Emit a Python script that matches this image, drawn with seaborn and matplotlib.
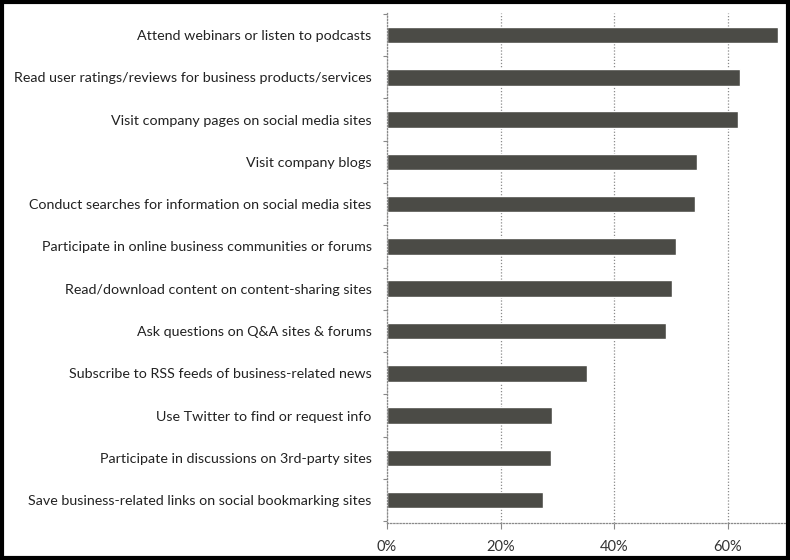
import matplotlib
matplotlib.use("Agg")
import matplotlib.pyplot as plt
from matplotlib.patches import Rectangle
import seaborn as sns
import pandas as pd
import numpy as np

activities = [
    "Attend webinars or listen to podcasts",
    "Read user ratings/reviews for business products/services",
    "Visit company pages on social media sites",
    "Visit company blogs",
    "Conduct searches for information on social media sites",
    "Participate in online business communities or forums",
    "Read/download content on content-sharing sites",
    "Ask questions on Q&A sites & forums",
    "Subscribe to RSS feeds of business-related news",
    "Use Twitter to find or request info",
    "Participate in discussions on 3rd-party sites",
    "Save business-related links on social bookmarking sites",
]
shares = [68.9, 62.2, 61.9, 54.6, 54.3, 50.9, 50.2, 49.2, 35.2, 29.1, 28.9, 27.5]
tick_values = [0, 20, 40, 60]
tick_labels = ["0%", "20%", "40%", "60%"]

df = pd.DataFrame({"activity": activities, "share": shares})

sns.set_theme(style="white")
plt.rcParams["font.family"] = ["Lato", "DejaVu Sans"]

fig = plt.figure(figsize=(7.9, 5.6), dpi=100)
ax = fig.add_axes([387 / 790, 1 - 523 / 560, (786 - 387) / 790, (523 - 13) / 560])

sns.barplot(data=df, x="share", y="activity", orient="h", color="#4b4b46",
            saturation=1, width=0.39, ax=ax)

ax.set_xlim(0, 70.3)
ax.set_ylim(len(activities) - 0.46, -0.52)
ax.set_xticks(tick_values)
ax.set_xticklabels(tick_labels, fontsize=10.5, color="#333333")
ax.set_xlabel("")
ax.set_ylabel("")
ax.tick_params(axis="y", length=0, labelsize=10.3, labelcolor="#222222", pad=11)
ax.tick_params(axis="x", length=4, width=0.8, color="#888888", direction="out",
               pad=8, bottom=True)
ax.set_yticks(np.arange(-0.5, len(activities), 1), minor=True)
ax.tick_params(axis="y", which="minor", length=3, width=0.8, color="#888888", left=True)

ax.xaxis.grid(True, linestyle=(0, (1, 1.5)), color="#8a8a8a", linewidth=0.9)
ax.set_axisbelow(True)
for side in ["top", "right"]:
    ax.spines[side].set_visible(False)
for side in ["left", "bottom"]:
    ax.spines[side].set_linestyle((0, (1, 1.5)))
    ax.spines[side].set_color("#8a8a8a")
    ax.spines[side].set_linewidth(0.9)

fig.patches.append(Rectangle((0.002, 0.003), 0.996, 0.994, transform=fig.transFigure,
                             fill=False, edgecolor="black", linewidth=3))

fig.savefig("out.png", dpi=100)
